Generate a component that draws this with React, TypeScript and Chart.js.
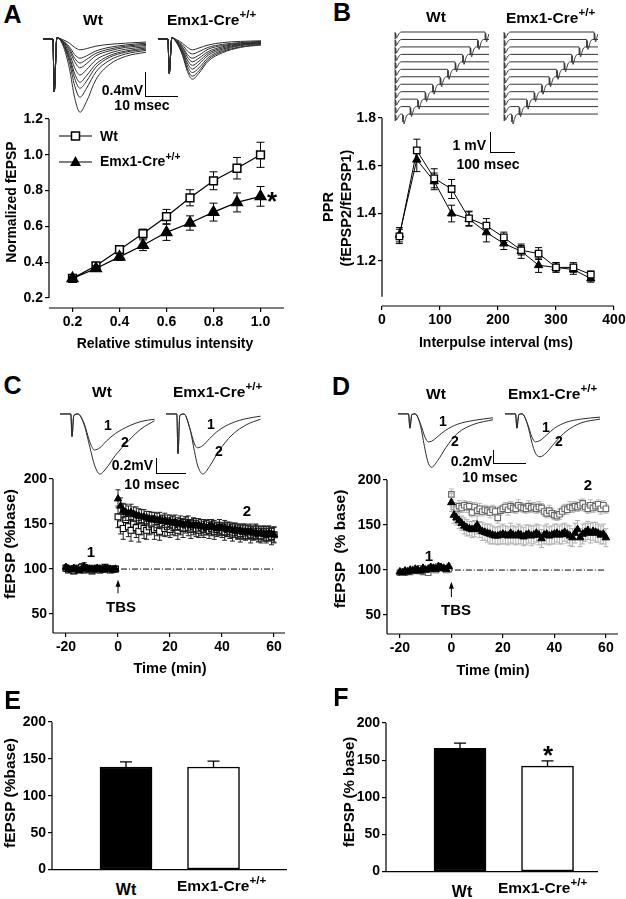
import React, { useEffect, useRef } from 'react';
import { Chart, registerables } from 'chart.js';

Chart.register(...registerables);

const FONT = "'Liberation Sans', Arial, Helvetica, sans-serif";
Chart.defaults.font.family = FONT;
Chart.defaults.font.size = 14;
(Chart.defaults.font as any).weight = 'bold';
Chart.defaults.color = '#000';

// ---------------- Panel A ----------------
const A_INTENSITY = [0.2, 0.3, 0.4, 0.5, 0.6, 0.7, 0.8, 0.9, 1.0];
const A_WT = [0.31, 0.38, 0.47, 0.56, 0.655, 0.76, 0.855, 0.925, 1.0];
const A_WT_ERR = [0.01, 0.012, 0.015, 0.025, 0.04, 0.045, 0.05, 0.06, 0.07];
const A_EMX = [0.31, 0.365, 0.43, 0.495, 0.567, 0.619, 0.68, 0.734, 0.768];
const A_EMX_ERR = [0.01, 0.015, 0.02, 0.03, 0.045, 0.04, 0.05, 0.053, 0.055];
const A_X_TICKS = [0.2, 0.4, 0.6, 0.8, 1.0];
const A_Y_TICKS = [0.2, 0.4, 0.6, 0.8, 1.0, 1.2];

const A_WT_TRACE_T = [0, 3.0, 3.4, 4.2, 6.0, 8.0, 9.6, 11.2, 13.2, 16, 20, 25, 31.2];
const A_WT_TRACES = [
  [0, 0, -0.88, 0.02, -0.01, -0.07, -0.14, -0.18, -0.16, -0.12, -0.09, -0.07, -0.05],
  [0, 0, -0.88, 0.02, -0.03, -0.13, -0.26, -0.32, -0.28, -0.2, -0.14, -0.1, -0.07],
  [0, 0, -0.88, 0.02, -0.03, -0.16, -0.32, -0.4, -0.34, -0.24, -0.17, -0.12, -0.09],
  [0, 0, -0.88, 0.02, -0.04, -0.19, -0.38, -0.48, -0.41, -0.28, -0.2, -0.14, -0.11],
  [0, 0, -0.88, 0.02, -0.05, -0.24, -0.48, -0.6, -0.51, -0.35, -0.24, -0.17, -0.13],
  [0, 0, -0.88, 0.02, -0.06, -0.29, -0.58, -0.72, -0.61, -0.42, -0.28, -0.2, -0.15],
  [0, 0, -0.88, 0.02, -0.07, -0.33, -0.66, -0.82, -0.7, -0.47, -0.31, -0.22, -0.17],
  [0, 0, -0.88, 0.02, -0.08, -0.39, -0.78, -0.97, -0.82, -0.55, -0.36, -0.25, -0.19],
  [0, 0, -0.88, 0.02, -0.1, -0.49, -0.98, -1.22, -1.04, -0.68, -0.43, -0.29, -0.22],
];
const A_EMX_TRACE_T = [0, 3.0, 3.4, 4.2, 5.6, 7.4, 8.9, 10.4, 12.4, 15.2, 19.5, 25, 31.2];
const A_EMX_TRACES = [
  [0, 0, -0.57, 0.02, -0.01, -0.07, -0.14, -0.18, -0.15, -0.1, -0.06, -0.04, -0.03],
  [0, 0, -0.57, 0.02, -0.02, -0.1, -0.2, -0.25, -0.21, -0.14, -0.09, -0.06, -0.04],
  [0, 0, -0.57, 0.02, -0.03, -0.13, -0.26, -0.32, -0.27, -0.17, -0.11, -0.07, -0.05],
  [0, 0, -0.57, 0.02, -0.03, -0.15, -0.3, -0.38, -0.32, -0.21, -0.13, -0.08, -0.06],
  [0, 0, -0.57, 0.02, -0.04, -0.18, -0.35, -0.44, -0.37, -0.24, -0.15, -0.09, -0.07],
  [0, 0, -0.57, 0.02, -0.04, -0.2, -0.4, -0.5, -0.42, -0.27, -0.17, -0.1, -0.07],
  [0, 0, -0.57, 0.02, -0.05, -0.22, -0.45, -0.56, -0.48, -0.31, -0.19, -0.11, -0.08],
  [0, 0, -0.57, 0.02, -0.05, -0.25, -0.5, -0.62, -0.53, -0.34, -0.21, -0.13, -0.09],
  [0, 0, -0.57, 0.02, -0.06, -0.27, -0.54, -0.67, -0.57, -0.37, -0.23, -0.14, -0.1],
];

// ---------------- Panel B ----------------
const B_INTERVAL = [30, 60, 90, 120, 150, 180, 210, 240, 270, 300, 330, 360];
const B_WT = [1.303, 1.664, 1.547, 1.502, 1.379, 1.348, 1.299, 1.245, 1.231, 1.173, 1.173, 1.143];
const B_WT_ERR = [0.03, 0.047, 0.04, 0.04, 0.03, 0.03, 0.022, 0.02, 0.025, 0.02, 0.02, 0.015];
const B_EMX = [1.31, 1.625, 1.534, 1.399, 1.376, 1.32, 1.273, 1.241, 1.182, 1.173, 1.164, 1.126];
const B_EMX_ERR = [0.03, 0.05, 0.035, 0.035, 0.03, 0.04, 0.025, 0.03, 0.03, 0.02, 0.02, 0.015];
const B_X_TICKS = [0, 100, 200, 300, 400];
const B_Y_TICKS = [1.2, 1.4, 1.6, 1.8];
// paired-pulse waveform template (ms, mV)
const B_PULSE_T = [0, 1, 2.5, 6, 10, 16, 26];
const B_PULSE1_V = [0, -0.35, -0.05, -0.3, -0.22, -0.08, 0];
const B_PULSE2_V = [0, -0.4, -0.05, -0.5, -0.34, -0.1, 0];

// ---------------- Panels C & D (LTP time course) ----------------
const T_LTP = [
  -20, -19, -18, -17, -16, -15, -14, -13, -12, -11, -10, -9, -8, -7, -6, -5, -4, -3, -2, -1,
  0, 1, 2, 3, 4, 5, 6, 7, 8, 9, 10, 11, 12, 13, 14, 15, 16, 17, 18, 19,
  20, 21, 22, 23, 24, 25, 26, 27, 28, 29, 30, 31, 32, 33, 34, 35, 36, 37, 38, 39,
  40, 41, 42, 43, 44, 45, 46, 47, 48, 49, 50, 51, 52, 53, 54, 55, 56, 57, 58, 59, 60,
];
const LTP_X_TICKS = [-20, 0, 20, 40, 60];
const LTP_Y_TICKS = [50, 100, 150, 200];

const C_WT = [
  101, 99, 100, 98, 101, 100, 102, 99, 100, 101, 98, 100, 101, 99, 100, 102, 100, 99, 100, 100,
  158, 150, 145, 155, 147, 143, 150, 146, 142, 148,
  145, 143, 147, 149, 144, 146, 142, 148, 145, 147,
  144, 148, 146, 143, 147, 145, 149, 146, 144, 147,
  145, 143, 146, 144, 146, 143, 145, 142, 144, 146,
  143, 141, 144, 142, 140, 143, 141, 139, 142, 140,
  141, 138, 140, 142, 139, 137, 140, 138, 139, 136,
  138,
];
const C_WT_ERR = [
  3, 2, 3, 3, 2, 3, 4, 3, 2, 3, 3, 2, 3, 3, 2, 3, 3, 2, 3, 3,
  12, 11, 12, 10, 11, 12, 10, 11, 12, 10,
  11, 10, 9, 10, 11, 9, 10, 11, 9, 10,
  9, 10, 9, 10, 9, 10, 9, 9, 10, 9,
  9, 8, 9, 9, 8, 9, 8, 9, 8, 9,
  8, 9, 8, 8, 9, 8, 8, 9, 8, 8,
  8, 9, 8, 8, 9, 8, 8, 9, 8, 9,
  9,
];
const C_EMX = [
  102, 100, 99, 101, 100, 98, 100, 103, 101, 100, 99, 100, 101, 100, 99, 101, 100, 100, 99, 100,
  178, 170, 165, 163, 162, 163, 161, 160, 159, 158,
  158, 157, 156, 155, 156, 154, 155, 153, 154, 152,
  153, 151, 152, 150, 151, 149, 150, 151, 148, 149,
  148, 149, 147, 148, 146, 147, 148, 146, 145, 147,
  145, 146, 144, 145, 143, 144, 142, 143, 141, 142,
  141, 142, 140, 141, 139, 140, 139, 138, 140, 139,
  138,
];
const C_EMX_ERR = [
  3, 3, 2, 3, 3, 2, 3, 4, 3, 3, 2, 3, 3, 3, 2, 3, 3, 2, 3, 3,
  10, 9, 8, 9, 8, 9, 8, 9, 8, 8,
  8, 7, 8, 8, 7, 8, 8, 7, 8, 8,
  7, 8, 8, 7, 8, 7, 8, 8, 7, 8,
  8, 7, 8, 7, 8, 8, 7, 8, 7, 8,
  7, 8, 8, 7, 8, 7, 8, 7, 8, 8,
  7, 8, 7, 8, 8, 7, 8, 7, 8, 7,
  8,
];
const D_WT = [
  97, 98, 97, 99, 98, 100, 101, 99, 102, 98, 100, 97, 101, 103, 100, 104, 103, 102, 100, 101,
  184, 170, 168, 171, 169, 172, 170, 171, 164, 170,
  166, 168, 165, 167, 166, 164, 167, 165, 158, 166,
  168, 170, 167, 171, 169, 168, 172, 170, 169, 168,
  171, 169, 170, 168, 170, 169, 165, 163, 166, 163,
  161, 160, 162, 165, 168, 167, 170, 169, 171, 170,
  172, 174, 170, 168, 172, 169, 171, 173, 168, 172,
  168,
];
const D_WT_ERR = [
  3, 3, 2, 3, 3, 2, 3, 3, 2, 3, 3, 2, 3, 3, 3, 2, 3, 3, 2, 3,
  6, 5, 5, 6, 5, 5, 6, 5, 5, 5,
  5, 6, 5, 5, 5, 6, 5, 5, 6, 5,
  5, 5, 6, 5, 5, 5, 6, 5, 5, 5,
  6, 5, 5, 5, 6, 5, 5, 5, 6, 5,
  5, 5, 6, 5, 5, 5, 6, 5, 5, 5,
  6, 5, 5, 5, 6, 5, 5, 5, 6, 5,
  5,
];
const D_EMX = [
  98, 97, 99, 98, 100, 99, 101, 100, 99, 102, 100, 101, 103, 102, 101, 104, 103, 102, 101, 104,
  175, 161, 158, 155, 152, 149, 147, 146, 145, 146,
  150, 145, 143, 142, 141, 140, 139, 138, 138, 139,
  140, 139, 138, 141, 139, 138, 140, 139, 137, 139,
  140, 138, 139, 141, 139, 135, 139, 140, 138, 139,
  140, 141, 139, 140, 142, 140, 138, 136, 141, 145,
  136, 140, 142, 144, 141, 143, 142, 141, 139, 140,
  136,
];
const D_EMX_ERR = [
  3, 3, 3, 2, 3, 3, 3, 2, 3, 3, 3, 2, 3, 3, 3, 2, 3, 3, 3, 3,
  10, 9, 8, 9, 8, 9, 9, 8, 9, 9,
  10, 9, 10, 9, 10, 11, 10, 9, 10, 10,
  11, 10, 10, 11, 10, 10, 11, 10, 10, 11,
  10, 11, 10, 10, 11, 10, 10, 11, 10, 10,
  11, 10, 10, 11, 10, 10, 11, 10, 11, 10,
  10, 11, 10, 10, 11, 10, 11, 10, 10, 11,
  10,
];

const C_WT_TRACE_T = [0, 3.6, 4.0, 4.6, 6.0, 8.0, 10.0, 11.5, 13.3, 15.5, 18.5, 23, 27, 31.5];
const C_WT_TRACES = [
  [0, 0, -0.3, -0.02, 0, -0.12, -0.38, -0.48, -0.45, -0.36, -0.26, -0.16, -0.1, -0.07],
  [0, 0, -0.3, -0.02, 0, -0.14, -0.45, -0.68, -0.8, -0.72, -0.55, -0.35, -0.2, -0.09],
];
const C_EMX_TRACE_T = [0, 3.6, 4.0, 4.6, 6.0, 8.0, 9.5, 10.5, 12.3, 14.5, 17.5, 22, 27, 31.5];
const C_EMX_TRACES = [
  [0, 0, -0.53, -0.02, 0, -0.2, -0.4, -0.45, -0.42, -0.33, -0.22, -0.12, -0.06, -0.03],
  [0, 0, -0.53, -0.02, 0, -0.2, -0.5, -0.68, -0.8, -0.7, -0.5, -0.28, -0.14, -0.07],
];
const D_WT_TRACE_T = [0, 3.2, 3.6, 4.2, 5.2, 6.8, 8.2, 9.2, 10.2, 12, 14.5, 18, 23, 28.8];
const D_WT_TRACES = [
  [0, 0, -0.22, -0.01, 0, -0.15, -0.36, -0.43, -0.42, -0.35, -0.25, -0.16, -0.1, -0.06],
  [0, 0, -0.22, -0.01, 0, -0.18, -0.55, -0.76, -0.82, -0.72, -0.52, -0.3, -0.16, -0.09],
];
const D_EMX_TRACE_T = [0, 3.2, 3.6, 4.2, 5.2, 6.8, 8.2, 9.2, 10.6, 12.5, 15, 18.5, 23, 28.8];
const D_EMX_TRACES = [
  [0, 0, -0.22, -0.01, 0, -0.15, -0.36, -0.43, -0.41, -0.33, -0.22, -0.13, -0.08, -0.05],
  [0, 0, -0.22, -0.01, 0, -0.16, -0.45, -0.6, -0.66, -0.6, -0.45, -0.27, -0.14, -0.08],
];

// ---------------- Panels E & F ----------------
const BAR_GROUPS = ['Wt', 'Emx1-Cre+/+'];
const E_VALUES = [139, 139];
const E_ERR = [7, 8];
const F_VALUES = [166, 142];
const F_ERR = [7, 7];
const BAR_Y_TICKS = [0, 50, 100, 150, 200];

// ================= helpers =================
type Box = { left: number; top: number; width: number; height: number };
type Pt = { x: number; y: number };

const toPts = (xs: number[], ys: number[]): Pt[] => ys.map((y, i) => ({ x: xs[i], y }));

const errorBarPlugin = {
  id: 'errorBars',
  beforeDatasetDraw(chart: any, args: any) {
    const ds: any = chart.data.datasets[args.index];
    if (!ds.errors) return;
    const ys = chart.scales.y;
    const ctx = chart.ctx;
    const cap = ds.errorCap ?? 3;
    ctx.save();
    ctx.strokeStyle = ds.errorColor || '#000';
    ctx.lineWidth = ds.errorLineWidth || 1;
    args.meta.data.forEach((el: any, i: number) => {
      const e = ds.errors[i];
      if (!e) return;
      const v = ds.data[i].y;
      const x = el.x;
      const yTop = ys.getPixelForValue(v + e);
      const yBot = ds.errorDir === 'up' ? ys.getPixelForValue(v) : ys.getPixelForValue(v - e);
      ctx.beginPath();
      ctx.moveTo(x, yTop);
      ctx.lineTo(x, yBot);
      ctx.moveTo(x - cap, yTop);
      ctx.lineTo(x + cap, yTop);
      if (ds.errorDir !== 'up') {
        ctx.moveTo(x - cap, yBot);
        ctx.lineTo(x + cap, yBot);
      }
      ctx.stroke();
    });
    ctx.restore();
  },
};

const prismPlugin = {
  id: 'prism',
  afterDraw(chart: any, _a: any, o: any) {
    const { ctx, chartArea: ca, scales } = chart;
    const xs = scales.x;
    const ys = scales.y;
    ctx.save();
    ctx.strokeStyle = '#000';
    ctx.fillStyle = '#000';
    ctx.lineWidth = 1.2;
    ctx.beginPath();
    ctx.moveTo(ca.left, ys.getPixelForValue(o.yLine[0]));
    ctx.lineTo(ca.left, ys.getPixelForValue(o.yLine[1]));
    ctx.moveTo(xs.getPixelForValue(o.xLine[0]), ca.bottom);
    ctx.lineTo(xs.getPixelForValue(o.xLine[1]), ca.bottom);
    ctx.stroke();
    if (o.arrow) {
      const ax = xs.getPixelForValue(o.arrow.x);
      const y1 = ys.getPixelForValue(o.arrow.from);
      const y2 = ys.getPixelForValue(o.arrow.to);
      ctx.lineWidth = 1;
      ctx.beginPath();
      ctx.moveTo(ax, y1);
      ctx.lineTo(ax, y2 + 4);
      ctx.stroke();
      ctx.beginPath();
      ctx.moveTo(ax, y2);
      ctx.lineTo(ax - 2.5, y2 + 7);
      ctx.lineTo(ax + 2.5, y2 + 7);
      ctx.closePath();
      ctx.fill();
    }
    if (o.legend) {
      const [ox, oy] = o.origin;
      o.legend.forEach((it: any) => {
        const y = it.y - oy;
        const x1 = it.x1 - ox;
        const x2 = it.x2 - ox;
        const cx = (x1 + x2) / 2;
        ctx.lineWidth = 1.2;
        ctx.beginPath();
        ctx.moveTo(x1, y);
        ctx.lineTo(x2, y);
        ctx.stroke();
        if (it.style === 'rect') {
          ctx.fillStyle = '#fff';
          ctx.fillRect(cx - 4, y - 4, 8, 8);
          ctx.lineWidth = 1.5;
          ctx.strokeRect(cx - 4, y - 4, 8, 8);
        } else {
          ctx.fillStyle = '#000';
          ctx.beginPath();
          ctx.moveTo(cx, y - 6);
          ctx.lineTo(cx + 5.5, y + 4);
          ctx.lineTo(cx - 5.5, y + 4);
          ctx.closePath();
          ctx.fill();
        }
      });
    }
    ctx.restore();
  },
};

type Spec = {
  area: { left: number; right: number; top: number; bottom: number };
  yW: number;
  xH: number;
  padT: number;
  padR: number;
  type: 'line' | 'bar';
  xMin: number;
  xMax: number;
  xTicks: number[];
  xShow: boolean;
  xFmt: (v: number) => string;
  yMin: number;
  yMax: number;
  yTicks: number[];
  yFmt: (v: number) => string;
  yLine: [number, number];
  xLine: [number, number];
  datasets: any[];
  arrow?: { x: number; from: number; to: number };
  legend?: { x1: number; x2: number; y: number; style: string }[];
};

function boxOf(s: Spec): Box {
  const left = s.area.left - s.yW;
  const top = s.area.top - s.padT;
  return { left, top, width: s.area.right + s.padR - left, height: s.area.bottom + s.xH - top };
}

function MainChart({ spec }: { spec: Spec }) {
  const ref = useRef<HTMLCanvasElement>(null);
  const box = boxOf(spec);
  useEffect(() => {
    const s = spec;
    const chart = new Chart(ref.current as HTMLCanvasElement, {
      type: s.type,
      data: { datasets: s.datasets },
      plugins: [errorBarPlugin, prismPlugin],
      options: {
        animation: false,
        responsive: false,
        devicePixelRatio: 1,
        events: [],
        layout: { padding: { left: 0, top: s.padT, right: s.padR, bottom: 0 } },
        plugins: {
          legend: { display: false },
          tooltip: { enabled: false },
          prism: { yLine: s.yLine, xLine: s.xLine, arrow: s.arrow, legend: s.legend, origin: [box.left, box.top] },
        } as any,
        scales: {
          x: {
            type: 'linear',
            min: s.xMin,
            max: s.xMax,
            offset: false,
            afterFit: (sc: any) => {
              sc.height = s.xH;
            },
            afterBuildTicks: (sc: any) => {
              sc.ticks = s.xTicks.map((v) => ({ value: v }));
            },
            ticks: {
              display: s.xShow,
              autoSkip: false,
              maxRotation: 0,
              padding: 2,
              color: '#000',
              font: { family: FONT, size: 14, weight: 'bold' },
              callback: (v: any) => s.xFmt(Number(v)),
            },
            grid: { display: s.xShow, drawOnChartArea: false, drawTicks: true, tickLength: 4, color: '#000', lineWidth: 1.2, offset: false },
            border: { display: false },
          },
          y: {
            type: 'linear',
            min: s.yMin,
            max: s.yMax,
            afterFit: (sc: any) => {
              sc.width = s.yW;
            },
            afterBuildTicks: (sc: any) => {
              sc.ticks = s.yTicks.map((v) => ({ value: v }));
            },
            ticks: {
              padding: 2,
              color: '#000',
              font: { family: FONT, size: 14, weight: 'bold' },
              callback: (v: any) => s.yFmt(Number(v)),
            },
            grid: { drawOnChartArea: false, drawTicks: true, tickLength: 4, color: '#000', lineWidth: 1.2 },
            border: { display: false },
          },
        } as any,
      },
    } as any);
    return () => chart.destroy();
  }, []);
  return (
    <canvas
      ref={ref}
      width={box.width}
      height={box.height}
      style={{ position: 'absolute', left: box.left, top: box.top, width: box.width, height: box.height }}
    />
  );
}

function TraceChart({ box, lines, xr, yr, color = '#2b2b2b' }: { box: Box; lines: Pt[][]; xr: number[]; yr: number[]; color?: string }) {
  const ref = useRef<HTMLCanvasElement>(null);
  useEffect(() => {
    const chart = new Chart(ref.current as HTMLCanvasElement, {
      type: 'line',
      data: {
        datasets: lines.map((pts) => ({
          data: pts,
          borderColor: color,
          borderWidth: 1,
          pointRadius: 0,
          fill: false,
          cubicInterpolationMode: 'monotone',
          clip: { left: 4, top: 4, right: 0, bottom: 4 },
        })),
      },
      options: {
        animation: false,
        responsive: false,
        devicePixelRatio: 1,
        events: [],
        layout: { padding: 0 },
        plugins: { legend: { display: false }, tooltip: { enabled: false } },
        scales: {
          x: { type: 'linear', display: false, min: xr[0], max: xr[1] },
          y: { type: 'linear', display: false, min: yr[0], max: yr[1] },
        },
      },
    } as any);
    return () => chart.destroy();
  }, []);
  return (
    <canvas
      ref={ref}
      width={box.width}
      height={box.height}
      style={{ position: 'absolute', left: box.left, top: box.top, width: box.width, height: box.height }}
    />
  );
}

// build paired-pulse rows (top row = longest interval)
const B_ROW_GAP = 0.373;
function pairedPulseRows(): Pt[][] {
  const rows: Pt[][] = [];
  const ordered = [...B_INTERVAL].reverse();
  ordered.forEach((iv, r) => {
    const off = -r * B_ROW_GAP;
    const pts: Pt[] = [];
    B_PULSE_T.forEach((t, k) => pts.push({ x: t, y: B_PULSE1_V[k] + off }));
    B_PULSE_T.forEach((t, k) => {
      if (k === 0 && iv <= B_PULSE_T[B_PULSE_T.length - 1]) return;
      pts.push({ x: iv + t, y: B_PULSE2_V[k] + off });
    });
    if (iv + B_PULSE_T[B_PULSE_T.length - 1] < 376) pts.push({ x: 376, y: off });
    rows.push(pts);
  });
  return rows;
}

// ================= text helpers =================
function Txt({ x, y, s = 14, a = 'c', rot = 0, children, pre = false }: any) {
  const tx = a === 'l' ? '0' : a === 'r' ? '-100%' : '-50%';
  return (
    <div
      style={{
        position: 'absolute',
        left: x,
        top: y,
        fontSize: s,
        fontWeight: 'bold',
        fontFamily: FONT,
        lineHeight: 1,
        whiteSpace: pre ? 'pre' : 'nowrap',
        color: '#000',
        transform: `translate(${tx}, -50%) rotate(${rot}deg)`,
        transformOrigin: a === 'c' ? '50% 50%' : undefined,
      }}
    >
      {children}
    </div>
  );
}
const Sup = () => <span style={{ fontSize: '0.75em', position: 'relative', top: '-0.6em' }}>+/+</span>;
const Emx = () => (
  <>
    Emx1-Cre
    <Sup />
  </>
);
function ScaleBar({ x, y1, y2, x2 }: { x: number; y1: number; y2: number; x2: number }) {
  return (
    <div
      style={{
        position: 'absolute',
        left: x,
        top: y1,
        width: x2 - x,
        height: y2 - y1,
        borderLeft: '1.5px solid #000',
        borderBottom: '1.5px solid #000',
        boxSizing: 'border-box',
      }}
    />
  );
}

// ================= specs =================
const f1 = (v: number) => v.toFixed(1);
const f0 = (v: number) => String(v);

const specA: Spec = {
  area: { left: 49, right: 284, top: 119, bottom: 308 },
  yW: 45, xH: 24, padT: 12, padR: 12, type: 'line',
  xMin: 0.1, xMax: 1.1, xTicks: A_X_TICKS, xShow: true, xFmt: f1,
  yMin: 0.1444, yMax: 1.2, yTicks: A_Y_TICKS, yFmt: f1,
  yLine: [1.2, 0.2], xLine: [0.1, 1.1],
  legend: [
    { x1: 59, x2: 92, y: 136, style: 'rect' },
    { x1: 59, x2: 92, y: 162, style: 'triangle' },
  ],
  datasets: [
    {
      data: toPts(A_INTENSITY, A_EMX), errors: A_EMX_ERR, errorCap: 4,
      borderColor: '#000', borderWidth: 1.2, pointStyle: 'triangle', pointRadius: 6.4,
      pointBackgroundColor: '#000', pointBorderColor: '#000', clip: false, tension: 0,
    },
    {
      data: toPts(A_INTENSITY, A_WT), errors: A_WT_ERR, errorCap: 4,
      borderColor: '#000', borderWidth: 1.2, pointStyle: 'rect', pointRadius: 5.5,
      pointBackgroundColor: '#fff', pointBorderColor: '#000', pointBorderWidth: 1.5, clip: false, tension: 0,
    },
  ],
};

const specB: Spec = {
  area: { left: 382, right: 614, top: 118, bottom: 306 },
  yW: 45, xH: 24, padT: 12, padR: 14, type: 'line',
  xMin: 0, xMax: 400, xTicks: B_X_TICKS, xShow: true, xFmt: f0,
  yMin: 1.011, yMax: 1.8, yTicks: B_Y_TICKS, yFmt: f1,
  yLine: [1.8, 1.05], xLine: [0, 400],
  datasets: [
    {
      data: toPts(B_INTERVAL, B_WT), errors: B_WT_ERR, errorCap: 3.5,
      borderColor: '#000', borderWidth: 1, pointStyle: 'rect', pointRadius: 4.6,
      pointBackgroundColor: '#fff', pointBorderColor: '#000', pointBorderWidth: 1.3, clip: false, tension: 0,
    },
    {
      data: toPts(B_INTERVAL, B_EMX), errors: B_EMX_ERR, errorCap: 3.5,
      borderColor: '#000', borderWidth: 1, pointStyle: 'triangle', pointRadius: 4.8,
      pointBackgroundColor: '#000', pointBorderColor: '#000', clip: false, tension: 0,
    },
  ],
};

const refLine = (color: string) => ({
  data: [{ x: -20, y: 100 }, { x: 60, y: 100 }],
  borderColor: color, borderWidth: 1, borderDash: [6, 2, 1, 2], pointRadius: 0, clip: false,
});

const specC: Spec = {
  area: { left: 53, right: 285, top: 479, bottom: 633 },
  yW: 45, xH: 24, padT: 12, padR: 12, type: 'line',
  xMin: -25, xMax: 64.2, xTicks: LTP_X_TICKS, xShow: true, xFmt: f0,
  yMin: 29, yMax: 200, yTicks: LTP_Y_TICKS, yFmt: f0,
  yLine: [200, 29], xLine: [-25, 64.2],
  arrow: { x: 0, from: 73, to: 88 },
  datasets: [
    {
      data: toPts(T_LTP, C_EMX), errors: C_EMX_ERR, errorCap: 2.5, errorColor: '#222',
      showLine: false, pointStyle: 'triangle', pointRadius: 4.2,
      pointBackgroundColor: '#000', pointBorderColor: '#000', clip: false,
    },
    {
      data: toPts(T_LTP, C_WT), errors: C_WT_ERR, errorCap: 2.5, errorColor: '#222',
      showLine: false, pointStyle: 'rect', pointRadius: 4.2,
      pointBackgroundColor: '#fff', pointBorderColor: '#000', pointBorderWidth: 1.1, clip: false,
    },
    refLine('#000'),
  ],
};

const specD: Spec = {
  area: { left: 387, right: 618, top: 480, bottom: 634 },
  yW: 45, xH: 24, padT: 12, padR: 10, type: 'line',
  xMin: -25, xMax: 64.7, xTicks: LTP_X_TICKS, xShow: true, xFmt: f0,
  yMin: 29, yMax: 200, yTicks: LTP_Y_TICKS, yFmt: f0,
  yLine: [200, 29], xLine: [-25, 64.7],
  arrow: { x: 0, from: 70, to: 87 },
  datasets: [
    {
      data: toPts(T_LTP, D_EMX), errors: D_EMX_ERR, errorCap: 2.5, errorColor: '#b0b0b0',
      showLine: false, pointStyle: 'triangle', pointRadius: 4.4,
      pointBackgroundColor: '#000', pointBorderColor: '#000', clip: false,
    },
    {
      data: toPts(T_LTP, D_WT), errors: D_WT_ERR, errorCap: 2.5, errorColor: '#b8b8b8',
      showLine: false, pointStyle: 'rect', pointRadius: 3.9,
      pointBackgroundColor: '#fff', pointBorderColor: '#666', pointBorderWidth: 1.1, clip: false,
    },
    refLine('#000'),
  ],
};

const barDataset = (vals: number[], errs: number[]) => ({
  data: vals.map((y, i) => ({ x: i + 1, y })),
  errors: errs, errorDir: 'up', errorCap: 6, errorLineWidth: 1.3,
  backgroundColor: ['#000', '#fff'], borderColor: '#000', borderWidth: 1.5,
  barThickness: 52, borderSkipped: false,
});

const specE: Spec = {
  area: { left: 52, right: 287, top: 722, bottom: 874 },
  yW: 45, xH: 6, padT: 12, padR: 10, type: 'bar',
  xMin: 0.154, xMax: 2.84, xTicks: [1, 2], xShow: false, xFmt: (v) => BAR_GROUPS[v - 1] || '',
  yMin: 0, yMax: 200, yTicks: BAR_Y_TICKS, yFmt: f0,
  yLine: [200, 0], xLine: [0.154, 2.84],
  datasets: [barDataset(E_VALUES, E_ERR)],
};

const specF: Spec = {
  area: { left: 386, right: 598, top: 723, bottom: 876 },
  yW: 45, xH: 6, padT: 12, padR: 10, type: 'bar',
  xMin: 0.154, xMax: 2.577, xTicks: [1, 2], xShow: false, xFmt: (v) => BAR_GROUPS[v - 1] || '',
  yMin: 0, yMax: 200, yTicks: BAR_Y_TICKS, yFmt: f0,
  yLine: [200, 0], xLine: [0.154, 2.577],
  datasets: [barDataset(F_VALUES, F_ERR)],
};

// ================= App =================
export default function App() {
  const ppRows = pairedPulseRows();
  return (
    <div
      style={{
        position: 'fixed', left: 0, top: 0, width: 626, height: 899,
        background: '#fff', overflow: 'hidden', fontFamily: FONT,
      }}
    >
      {/* main charts */}
      <MainChart spec={specA} />
      <MainChart spec={specB} />
      <MainChart spec={specC} />
      <MainChart spec={specD} />
      <MainChart spec={specE} />
      <MainChart spec={specF} />

      {/* traces */}
      <TraceChart box={{ left: 43, top: 36, width: 104, height: 80 }} xr={[0, 31.5]} yr={[-1.283, 0.05]}
        lines={A_WT_TRACES.map((v) => toPts(A_WT_TRACE_T, v))} />
      <TraceChart box={{ left: 158, top: 36, width: 104, height: 80 }} xr={[0, 31.5]} yr={[-1.283, 0.05]}
        lines={A_EMX_TRACES.map((v) => toPts(A_EMX_TRACE_T, v))} />
      <TraceChart box={{ left: 393, top: 29, width: 96, height: 102 }} xr={[-8, 376]} yr={[-4.95, 0.15]} lines={ppRows} color="#333" />
      <TraceChart box={{ left: 502, top: 29, width: 96, height: 102 }} xr={[-8, 376]} yr={[-4.95, 0.15]} lines={ppRows} color="#333" />
      <TraceChart box={{ left: 60, top: 410, width: 95, height: 70 }} xr={[0, 31.67]} yr={[-0.88, 0.053]}
        lines={C_WT_TRACES.map((v) => toPts(C_WT_TRACE_T, v))} />
      <TraceChart box={{ left: 166, top: 410, width: 95, height: 70 }} xr={[0, 31.67]} yr={[-0.88, 0.053]}
        lines={C_EMX_TRACES.map((v) => toPts(C_EMX_TRACE_T, v))} />
      <TraceChart box={{ left: 398, top: 410, width: 95, height: 62 }} xr={[0, 28.8]} yr={[-0.894, 0.06]}
        lines={D_WT_TRACES.map((v) => toPts(D_WT_TRACE_T, v))} />
      <TraceChart box={{ left: 505, top: 410, width: 95, height: 62 }} xr={[0, 28.8]} yr={[-0.894, 0.06]}
        lines={D_EMX_TRACES.map((v) => toPts(D_EMX_TRACE_T, v))} />

      {/* scale bars */}
      <ScaleBar x={145} y1={72} y2={97} x2={178} />
      <ScaleBar x={490} y1={132} y2={153} x2={515} />
      <ScaleBar x={156} y1={458} y2={474} x2={186} />
      <ScaleBar x={493} y1={450} y2={464} x2={526} />

      {/* panel letters */}
      <Txt x={12.5} y={13.5} s={25}>A</Txt>
      <Txt x={342} y={12} s={25}>B</Txt>
      <Txt x={12.5} y={385} s={25}>C</Txt>
      <Txt x={341} y={386} s={25}>D</Txt>
      <Txt x={12.5} y={700} s={25}>E</Txt>
      <Txt x={341} y={697} s={25}>F</Txt>

      {/* panel titles */}
      <Txt x={93} y={19.5} s={15.5}>Wt</Txt>
      <Txt x={167} y={20} s={15.5} a="l"><Emx /></Txt>
      <Txt x={436} y={17} s={15.5}>Wt</Txt>
      <Txt x={506} y={18} s={15.5} a="l"><Emx /></Txt>
      <Txt x={102} y={392} s={15.5}>Wt</Txt>
      <Txt x={173} y={392} s={15.5} a="l"><Emx /></Txt>
      <Txt x={436} y={394} s={15.5}>Wt</Txt>
      <Txt x={508} y={394} s={15.5} a="l"><Emx /></Txt>

      {/* scale bar labels */}
      <Txt x={143} y={89.5} s={14} a="r">0.4mV</Txt>
      <Txt x={142} y={105} s={14}>10 msec</Txt>
      <Txt x={486} y={145} s={14} a="r">1 mV</Txt>
      <Txt x={488} y={164} s={14}>100 msec</Txt>
      <Txt x={153} y={465} s={14} a="r">0.2mV</Txt>
      <Txt x={152} y={484} s={14}>10 msec</Txt>
      <Txt x={492} y={461} s={14} a="r">0.2mV</Txt>
      <Txt x={490} y={477} s={14}>10 msec</Txt>

      {/* trace numbers */}
      <Txt x={108} y={425} s={14}>1</Txt>
      <Txt x={125} y={442} s={14}>2</Txt>
      <Txt x={211} y={424} s={14}>1</Txt>
      <Txt x={219} y={451} s={14}>2</Txt>
      <Txt x={443} y={421} s={14}>1</Txt>
      <Txt x={455} y={441} s={14}>2</Txt>
      <Txt x={546} y={427} s={14}>1</Txt>
      <Txt x={559} y={441} s={14}>2</Txt>

      {/* legend A */}
      <Txt x={100} y={136} s={14} a="l">Wt</Txt>
      <Txt x={100} y={161} s={14} a="l"><Emx /></Txt>
      <Txt x={272} y={201} s={26}>*</Txt>

      {/* axis titles */}
      <Txt x={165} y={343} s={14}>Relative stimulus intensity</Txt>
      <Txt x={11} y={202} s={14} rot={-90}>Normalized fEPSP</Txt>
      <Txt x={496} y={342} s={14}>Interpulse interval (ms)</Txt>
      <Txt x={328} y={207} s={14.5} rot={-90}>PPR</Txt>
      <Txt x={345.5} y={208} s={14.5} rot={-90}>(fEPSP2/fEPSP1)</Txt>
      <Txt x={170} y={668} s={14.5}>Time (min)</Txt>
      <Txt x={10} y={544} s={15.5} rot={-90}>fEPSP (%base)</Txt>
      <Txt x={493} y={670} s={14.5}>Time (min)</Txt>
      <Txt x={340} y={549} s={15.5} rot={-90} pre>fEPSP  (% base)</Txt>
      <Txt x={10} y={793} s={15.5} rot={-90}>fEPSP (%base)</Txt>
      <Txt x={348} y={792} s={15} rot={-90}>fEPSP (% base)</Txt>

      {/* LTP annotations */}
      <Txt x={91} y={551} s={15}>1</Txt>
      <Txt x={247} y={510} s={15}>2</Txt>
      <Txt x={121} y={606} s={15}>TBS</Txt>
      <Txt x={429} y={555} s={15}>1</Txt>
      <Txt x={588} y={484} s={15}>2</Txt>
      <Txt x={456} y={609} s={15}>TBS</Txt>

      {/* bar labels */}
      <Txt x={126} y={890} s={16}>{BAR_GROUPS[0]}</Txt>
      <Txt x={177} y={886} s={15.5} a="l"><Emx /></Txt>
      <Txt x={462} y={892} s={16}>{BAR_GROUPS[0]}</Txt>
      <Txt x={498} y={888} s={15.5} a="l"><Emx /></Txt>
      <Txt x={548} y={755} s={26}>*</Txt>
    </div>
  );
}
